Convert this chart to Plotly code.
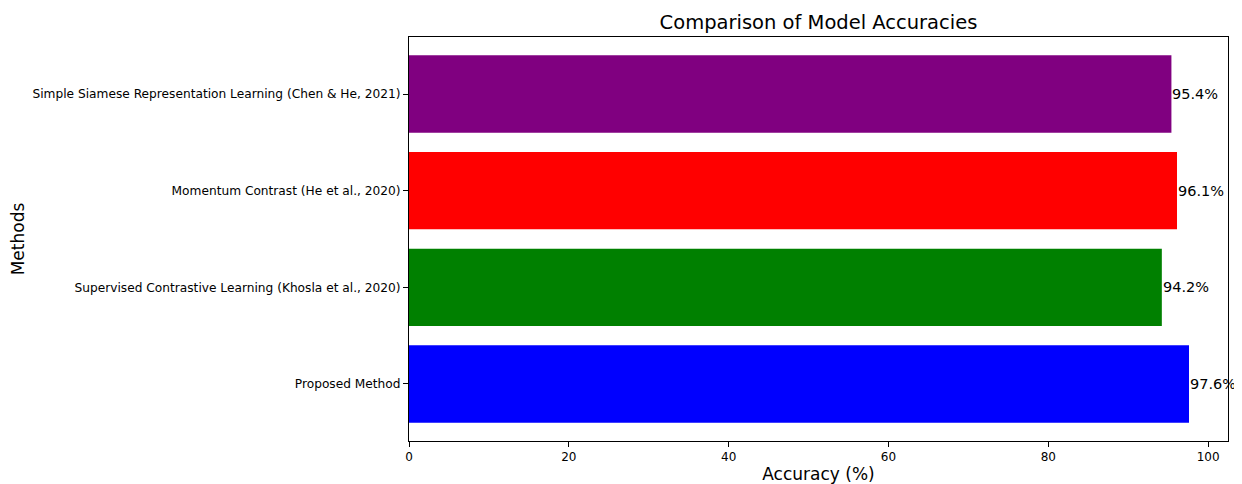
import plotly.graph_objects as go

methods = [
    "Proposed Method",
    "Supervised Contrastive Learning (Khosla et al., 2020)",
    "Momentum Contrast (He et al., 2020)",
    "Simple Siamese Representation Learning (Chen & He, 2021)",
]
accuracies = [97.6, 94.2, 96.1, 95.4]
colors = ["blue", "green", "red", "purple"]
x_ticks = [0, 20, 40, 60, 80, 100]

FONT = "DejaVu Sans"
OFF = 8  # default page body margin

fig = go.Figure()
fig.add_trace(go.Bar(
    x=accuracies, y=methods, orientation="h",
    marker=dict(color=colors, line=dict(width=0)),
    width=0.8, showlegend=False, hoverinfo="x+y",
))

for m, a in zip(methods, accuracies):
    fig.add_annotation(
        x=a, y=m, text=f"{a}%", showarrow=False,
        xanchor="left", yanchor="middle", xshift=-1,
        font=dict(family=FONT, size=14.5, color="black"),
    )

W, H = 1242 - OFF, 484 - OFF
fig.update_layout(
    width=W, height=H,
    margin=dict(l=409 - OFF, r=14, t=37 - OFF, b=43, autoexpand=False),
    paper_bgcolor="white", plot_bgcolor="white",
    font=dict(family=FONT, color="black"),
    title=dict(text="Comparison of Model Accuracies", xref="paper", x=0.5, xanchor="center",
               y=1 - (22 - OFF) / H, yanchor="middle", font=dict(family=FONT, size=19.5)),
)
fig.update_xaxes(
    range=[0, max(accuracies) * 1.05], automargin=False,
    tickvals=x_ticks, ticks="outside", ticklen=5, tickwidth=1, tickcolor="black",
    showline=True, linecolor="black", linewidth=1, mirror=True,
    showgrid=False, zeroline=False,
    tickfont=dict(family=FONT, size=12),
    title=dict(text="Accuracy (%)", font=dict(family=FONT, size=17), standoff=6),
)
fig.update_yaxes(
    type="category", categoryorder="array", categoryarray=methods,
    range=[-0.59, 3.59], automargin=False,
    ticks="outside", ticklen=5, tickwidth=1, tickcolor="black",
    showline=True, linecolor="black", linewidth=1, mirror=True,
    showgrid=False, zeroline=False,
    tickfont=dict(family=FONT, size=12.2),
    title=dict(text="Methods", font=dict(family=FONT, size=17), standoff=3),
)

fig.write_html("out.html")
